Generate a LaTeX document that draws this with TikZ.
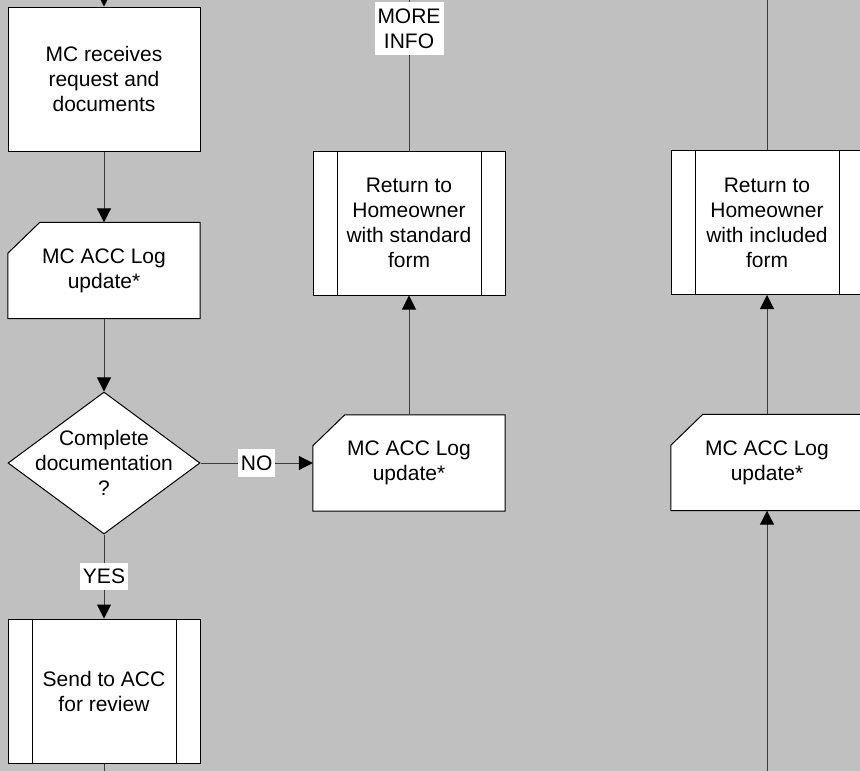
\documentclass[tikz,border=0pt]{standalone}
\usepackage{fontspec}
\setmainfont{Liberation Sans}
\usepackage{xcolor}
\definecolor{dnxam}{HTML}{C0C0C0}
\definecolor{dnduong}{HTML}{3C3C3C}
\def\maunen{dnxam}
\def\mauduong{dnduong}
\usetikzlibrary{arrows.meta,shapes.geometric,positioning}

\begin{document}
\begin{tikzpicture}[x=1pt,y=-1pt,font=\fontsize{21}{25}\selectfont]
		\tikzstyle{hop} = [draw=black,fill=white,line width=1pt,minimum width=192pt,minimum height=144pt,inner sep=0pt,align=center]
		\tikzstyle{hopkep} = [hop,path picture={\draw[line width=1pt] ([xshift=24pt]path picture bounding box.north west)--([xshift=24pt]path picture bounding box.south west) ([xshift=-24pt]path picture bounding box.north east)--([xshift=-24pt]path picture bounding box.south east);}]
		\tikzstyle{nhatky} = [rectangle,minimum width=192pt,minimum height=96pt,inner sep=0pt,append after command={\pgfextra{\filldraw[draw=black,fill=white,line width=1pt] ([xshift=32pt]\tikzlastnode.north west)--(\tikzlastnode.north east)--(\tikzlastnode.south east)--(\tikzlastnode.south west)--([yshift=-31pt]\tikzlastnode.north west)--cycle;}}]
		\tikzstyle{hoi} = [diamond,draw=black,fill=white,line width=1pt,minimum width=192pt,minimum height=142pt,inner sep=0pt]
		\tikzstyle{chu} = [align=center,inner sep=0pt]
		\tikzstyle{nhan} = [fill=white,text=black,inner xsep=3pt,inner ysep=6.5pt,align=center]
		\tikzstyle{duong} = [line width=1pt,\mauduong]
		\tikzstyle{muiten} = [duong,-{Triangle[length=14pt,width=14pt,color=black]}]
		\useasboundingbox (0,0) rectangle (860,771);
		\fill[\maunen] (0,0) rectangle (860,771);
		\clip (0,0) rectangle (860,771);
		% cot trai
		\node[hop] (tiepnhan) at (104,79) {MC receives\\request and\\documents};
		\node[nhatky] (capnhat1) at (104,270.5) {};
		\node[chu] (capnhat1chu) at (capnhat1) {MC ACC Log\\update*};
		\node[hoi] (kiemtra) at (104,463) {};
		\node[chu] (kiemtrachu) at (kiemtra) {Complete\\documentation\\?};
		\node[hopkep] (gui) at (104,691) {Send to ACC\\for review};
		% cot giua
		\node[nhatky] (capnhat2) at (409,463) {};
		\node[chu] (capnhat2chu) at (capnhat2) {MC ACC Log\\update*};
		\node[hopkep] (traA) at (409,223) {Return to\\Homeowner\\with standard\\form};
		% cot phai
		\node[nhatky] (capnhat3) at (767,462.5) {};
		\node[chu] (capnhat3chu) at (capnhat3) {MC ACC Log\\update*};
		\node[hopkep] (traB) at (767,222.5) {Return to\\Homeowner\\with included\\form};
		\coordinate (vao) at (104,0);
		\coordinate (ra) at (104,771);
		\coordinate (trenA) at (409,0);
		\coordinate (trenB) at (767,0);
		\coordinate (duoiB) at (767,771);
		% mui ten
		\draw[muiten] (vao)--(tiepnhan);
		\draw[muiten] (tiepnhan)--(capnhat1);
		\draw[muiten] (capnhat1)--(kiemtra);
		\draw[muiten] (kiemtra)--node[nhan]{NO}(capnhat2);
		\draw[muiten] (kiemtra)--node[nhan]{YES}(gui);
		\draw[duong] (gui)--(ra);
		\draw[muiten] (capnhat2)--(traA);
		\draw[duong] (traA)--node[nhan,pos=.81]{MORE\\INFO}(trenA);
		\draw[muiten] (duoiB)--(capnhat3);
		\draw[muiten] (capnhat3)--(traB);
		\draw[duong] (traB)--(trenB);
	\end{tikzpicture}
\end{document}
